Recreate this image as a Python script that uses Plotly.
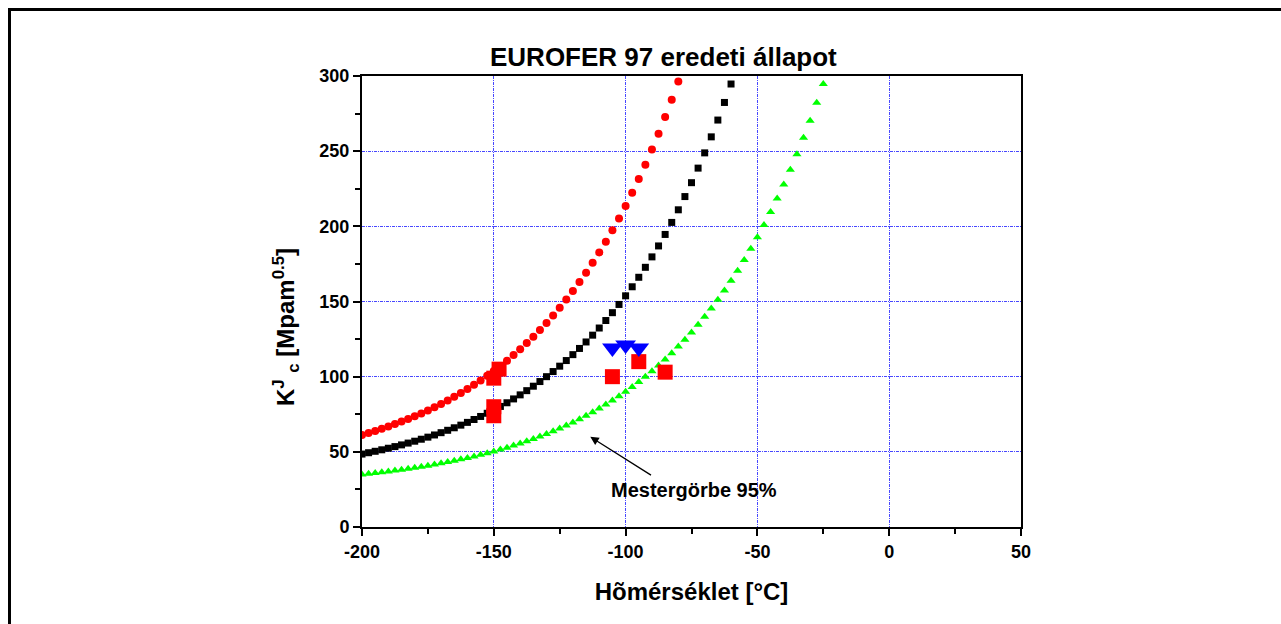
import plotly.graph_objects as go

# Master curve series (temperature step 2.5 °C)
t_black = [-200 + 2.5 * i for i in range(57)]
k_black = [48.51, 49.41, 50.36, 51.35, 52.39, 53.48, 54.62, 55.82, 57.07, 58.39,
           59.77, 61.22, 62.74, 64.33, 66.00, 67.75, 69.59, 71.51, 73.53, 75.65,
           77.87, 80.20, 82.64, 85.20, 87.89, 90.70, 93.66, 96.75, 100.00, 103.41,
           106.98, 110.72, 114.65, 118.77, 123.08, 127.61, 132.36, 137.34, 142.56, 148.04,
           153.78, 159.80, 166.11, 172.74, 179.68, 186.96, 194.60, 202.60, 211.00, 219.80,
           229.04, 238.72, 248.87, 259.52, 270.69, 282.40, 294.67]

t_red = [-200 + 2.5 * i for i in range(49)]
k_red = [61.26, 62.57, 63.93, 65.37, 66.87, 68.45, 70.10, 71.83, 73.65, 75.55,
         77.55, 79.65, 81.85, 84.15, 86.57, 89.10, 91.76, 94.55, 97.47, 100.53,
         103.75, 107.12, 110.65, 114.36, 118.24, 122.32, 126.59, 131.07, 135.77, 140.70,
         145.87, 151.29, 156.97, 162.93, 169.18, 175.73, 182.60, 189.81, 197.37, 205.29,
         213.60, 222.31, 231.45, 241.03, 251.08, 261.62, 272.67, 284.26, 296.41]

t_green = [-200 + 2.5 * i for i in range(71)]
k_green = [34.93, 35.40, 35.89, 36.41, 36.95, 37.52, 38.12, 38.75, 39.41, 40.10,
           40.82, 41.58, 42.37, 43.21, 44.08, 45.00, 45.96, 46.97, 48.02, 49.13,
           50.29, 51.51, 52.79, 54.13, 55.54, 57.01, 58.56, 60.18, 61.88, 63.66,
           65.53, 67.49, 69.55, 71.70, 73.96, 76.33, 78.82, 81.43, 84.16, 87.03,
           90.03, 93.18, 96.49, 99.96, 103.59, 107.40, 111.40, 115.59, 119.99, 124.60,
           129.43, 134.50, 139.81, 145.39, 151.23, 157.36, 163.79, 170.53, 177.60, 185.01,
           192.78, 200.93, 209.48, 218.44, 227.84, 237.70, 248.03, 258.87, 270.23, 282.15,
           294.65]

# Measured points
t_meas_sq = [-150, -150, -150, -148, -105, -95, -85]
k_meas_sq = [74, 80, 99, 105, 100, 110, 103]
t_meas_tri = [-105, -100, -95]
k_meas_tri = [119, 121, 119]

# Tick labels
x_tickvals = [-200, -150, -100, -50, 0, 50]
x_ticktext = ["-200", "-150", "-100", "-50", "0", "50"]
y_tickvals = [0, 50, 100, 150, 200, 250, 300]
y_ticktext = ["0", "50", "100", "150", "200", "250", "300"]

FONT = "Arial, Liberation Sans, sans-serif"
GRID = "#4848FF"

fig = go.Figure()
fig.add_trace(go.Scatter(x=t_black, y=k_black, mode="markers",
                         marker=dict(symbol="square", size=7, color="black"), showlegend=False))
fig.add_trace(go.Scatter(x=t_red, y=k_red, mode="markers",
                         marker=dict(symbol="circle", size=8, color="#FF0000"), showlegend=False))
fig.add_trace(go.Scatter(x=t_green, y=k_green, mode="markers",
                         marker=dict(symbol="triangle-up", size=8, color="#00FF00"), showlegend=False))
fig.add_trace(go.Scatter(x=t_meas_sq, y=k_meas_sq, mode="markers",
                         marker=dict(symbol="square", size=15, color="#FF0000"), showlegend=False))
fig.add_trace(go.Scatter(x=t_meas_tri, y=k_meas_tri, mode="markers",
                         marker=dict(symbol="triangle-down", size=18, color="#0000FF"), showlegend=False))

L, R, T, B = 362, 1021, 76, 527
W, H = 1281, 624
pw, ph = R - L, B - T


def px(x):
    return (x - L) / pw


def py(y):
    return (B - y) / ph


axis_common = dict(
    showline=True, linecolor="black", linewidth=2, mirror=True,
    ticks="outside", ticklen=7, tickwidth=2, tickcolor="black",
    showgrid=True, gridcolor=GRID, gridwidth=1, griddash="3px,1px,1px,1px",
    zeroline=False,
    tickfont=dict(family=FONT, size=18, color="black", weight="bold"),
    minor=dict(ticks="outside", ticklen=5, tickwidth=2, tickcolor="black",
               showgrid=False, gridcolor=GRID),
)

fig.update_xaxes(range=[-200, 50], tickmode="array", tickvals=x_tickvals, ticktext=x_ticktext,
                 **axis_common)
fig.update_xaxes(minor_dtick=25, minor_tick0=0,
                 title=dict(text="Hõmérséklet [°C]", standoff=23,
                            font=dict(family=FONT, size=24, color="black", weight="bold")))
fig.update_yaxes(range=[0, 300], tickmode="array", tickvals=y_tickvals, ticktext=y_ticktext,
                 **axis_common)
fig.update_yaxes(minor_dtick=25, minor_tick0=0)

annotations = [
    dict(text="<b>EUROFER 97 eredeti állapot</b>", xref="paper", yref="paper",
         x=px(663), y=py(57), xanchor="center", yanchor="middle", showarrow=False,
         font=dict(family=FONT, size=26, color="black")),
    dict(text="<b>K<sup>J</sup> <sub>c</sub> [Mpam<sup>0.5</sup>]</b>", xref="paper", yref="paper",
         x=px(286), y=py(327), xanchor="center", yanchor="middle", textangle=-90,
         showarrow=False, font=dict(family=FONT, size=24, color="black")),
    dict(text="<b>Mestergörbe 95%</b>", xref="x", yref="y",
         x=-73.9, y=24.6, xanchor="center", yanchor="middle", showarrow=False,
         font=dict(family=FONT, size=20, color="black")),
    dict(text="", xref="x", yref="y", x=-113.4, y=60, axref="x", ayref="y",
         ax=-89.8, ay=33.9, showarrow=True, arrowhead=2, arrowsize=1.3,
         arrowwidth=1.3, arrowcolor="black"),
    dict(text="<b>be:</b>", xref="paper", yref="paper", x=px(4), y=py(6),
         xanchor="left", yanchor="bottom", showarrow=False,
         font=dict(family=FONT, size=18, color="black")),
]

shapes = [
    dict(type="line", xref="paper", yref="paper", x0=px(8), y0=py(9.5), x1=px(1290), y1=py(9.5),
         line=dict(color="black", width=3)),
    dict(type="line", xref="paper", yref="paper", x0=px(9.5), y0=py(8), x1=px(9.5), y1=py(640),
         line=dict(color="black", width=3)),
]

fig.update_layout(
    width=W, height=H,
    margin=dict(l=L, r=W - R, t=T, b=H - B, autoexpand=False),
    plot_bgcolor="white", paper_bgcolor="white",
    annotations=annotations, shapes=shapes,
    font=dict(family=FONT, color="black"),
)

fig.write_html("out.html", config={"displayModeBar": False},
               post_script="document.body.style.margin='0';document.body.style.overflow='hidden';")
